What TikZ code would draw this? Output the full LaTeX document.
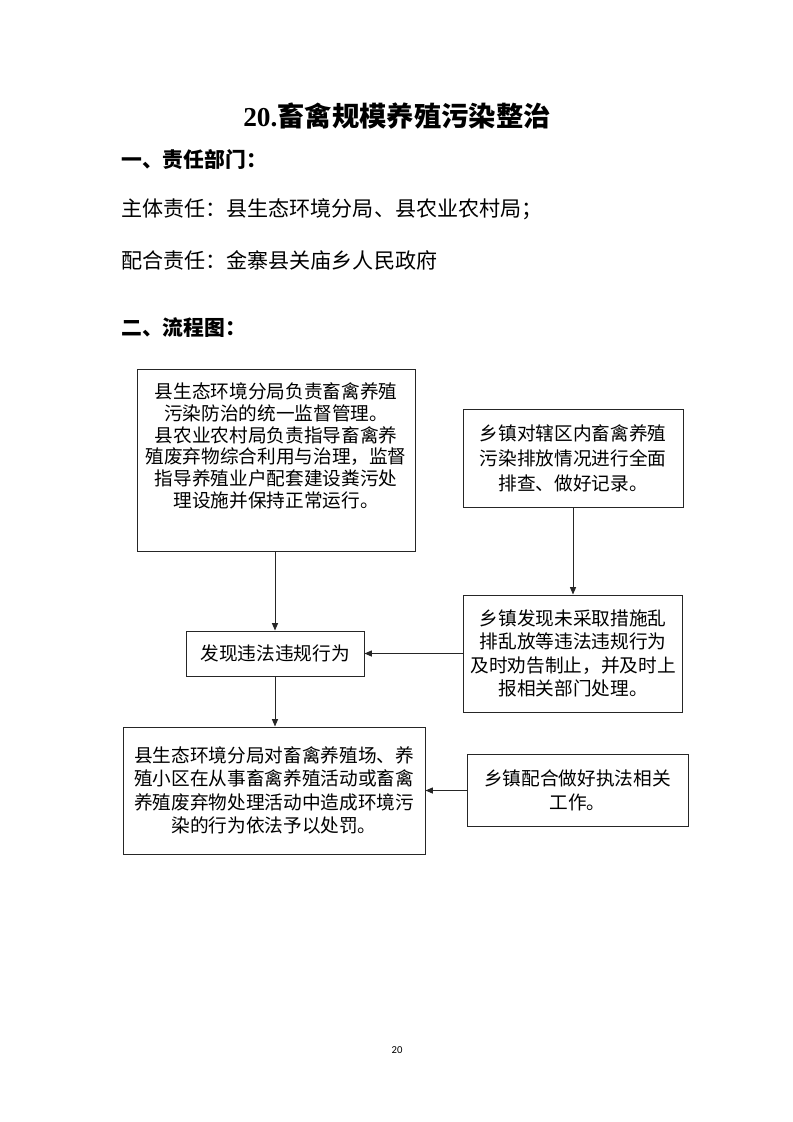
\documentclass[tikz,border=0pt]{standalone}
\usepackage{fontspec}
\setmainfont{Liberation Serif}
\newfontfamily\cjk{Noto Sans CJK SC}
\newfontfamily\numfont{Liberation Serif}
\newfontfamily\pgfont{Carlito}
\usetikzlibrary{arrows.meta}
\begin{document}
\begin{tikzpicture}[x=0.75pt,y=-0.75pt,
  box/.style={draw=black!85, line width=0.75pt, inner sep=0pt, align=center,
    font=\cjk\fontsize{14}{17.5}\selectfont},
  lbl/.style={inner sep=0pt, align=center, font=\cjk\fontsize{14}{16.3}\selectfont},
  arr/.style={draw=black!85, line width=0.75pt, -{Triangle[length=5.5pt,width=4.5pt]}},
  head/.style={anchor=west, inner sep=0pt, font=\cjk\bfseries\fontsize{15.6}{18}\selectfont},
  body/.style={anchor=west, inner sep=0pt, font=\cjk\fontsize{15.8}{18}\selectfont}]
\useasboundingbox (0,0) rectangle (793,1122);
\fill[white] (0,0) rectangle (793,1122);

\node[inner sep=0pt] (title) at (397,116) {{\numfont\bfseries\fontsize{20.5}{24}\selectfont 20.}{\cjk\bfseries\fontsize{20.5}{24}\selectfont 畜禽规模养殖污染整治}};
\node[head] (h1) at (121,160) {一、责任部门：};
\node[body] (t1) at (121,209) {主体责任：县生态环境分局、县农业农村局；};
\node[body] (t2) at (121,260) {配合责任：金寨县关庙乡人民政府};
\node[head] (h2) at (121,328) {二、流程图：};

\node[box, minimum width=208.5pt, minimum height=136.5pt,
  label={[lbl, yshift=10.5pt]center:{县生态环境分局负责畜禽养殖\\污染防治的统一监督管理。\\县农业农村局负责指导畜禽养\\殖废弃物综合利用与治理，监督\\指导养殖业户配套建设粪污处\\理设施并保持正常运行。}}]
  (b1) at (276,460) {};

\node[box, minimum width=165pt, minimum height=73.5pt, font=\cjk\fontsize{14}{18.75}\selectfont]
  (b2) at (573,458) {乡镇对辖区内畜禽养殖\\污染排放情况进行全面\\排查、做好记录。};

\node[box, minimum width=164.25pt, minimum height=87.75pt]
  (b3) at (573,653.5) {乡镇发现未采取措施乱\\排乱放等违法违规行为\\及时劝告制止，并及时上\\报相关部门处理。};

\node[box, minimum width=133.5pt, minimum height=33.75pt]
  (b4) at (275,653.5) {发现违法违规行为};

\node[box, minimum width=226.5pt, minimum height=95.25pt]
  (b5) at (274,790.5) {县生态环境分局对畜禽养殖场、养\\殖小区在从事畜禽养殖活动或畜禽\\养殖废弃物处理活动中造成环境污\\染的行为依法予以处罚。};

\node[box, minimum width=165.75pt, minimum height=54pt, font=\cjk\fontsize{14}{17.6}\selectfont]
  (b6) at (577.5,790.5) {乡镇配合做好执法相关\\工作。};

\draw[arr] (b4.north |- b1.south) -- (b4.north);
\draw[arr] (b2.south) -- (b3.north);
\draw[arr] (b3.west) -- (b4.east);
\draw[arr] (b4.south) -- (b4.south |- b5.north);
\draw[arr] (b6.west) -- (b5.east);

\node[inner sep=0pt, font=\pgfont\fontsize{8}{9}\selectfont] (pg) at (397,1050) {20};
\end{tikzpicture}
\end{document}
